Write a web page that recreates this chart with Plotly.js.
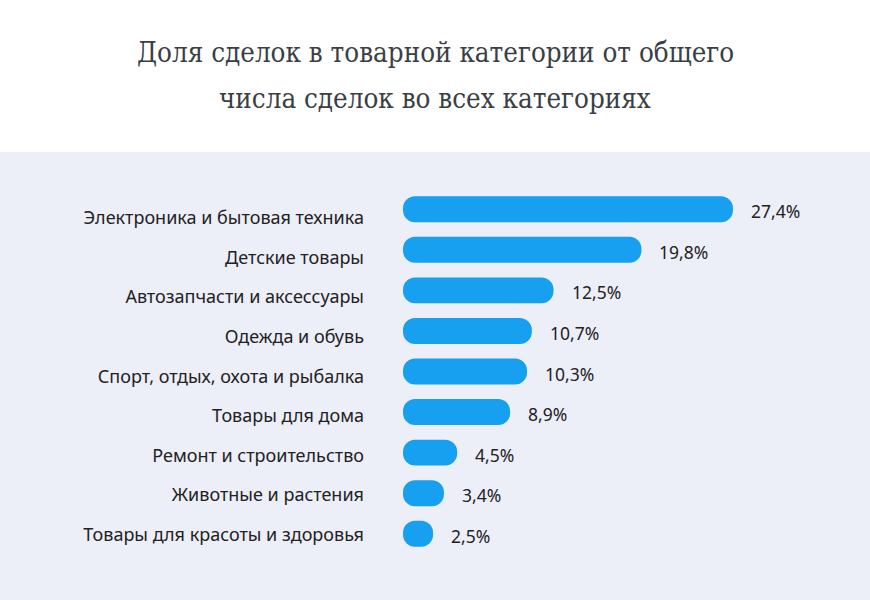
<!DOCTYPE html>
<html>
<head>
<meta charset="utf-8">
<script src="https://cdn.plot.ly/plotly-3.0.1.min.js"></script>
<style>html,body{margin:0;padding:0;background:#fff;}#chart{width:870px;height:600px;}</style>
</head>
<body>
<div id="chart"></div>
<script>
const categories = [
  "Электроника и бытовая техника",
  "Детские товары",
  "Автозапчасти и аксессуары",
  "Одежда и обувь",
  "Спорт, отдых, охота и рыбалка",
  "Товары для дома",
  "Ремонт и строительство",
  "Животные и растения",
  "Товары для красоты и здоровья"
];
const shares = [27.4, 19.8, 12.5, 10.7, 10.3, 8.9, 4.5, 3.4, 2.5];
const shareLabels = ["27,4%", "19,8%", "12,5%", "10,7%", "10,3%", "8,9%", "4,5%", "3,4%", "2,5%"];
const titleLines = ["Доля сделок в товарной категории от общего", "числа сделок во всех категориях"];

const FIG_H = 600, M_TOP = 189, M_BOT = 46;
const plotH = FIG_H - M_TOP - M_BOT;
const py = px => (FIG_H - M_BOT - px) / plotH;
const M_L = 403, M_R = 10, FIG_W = 870;
const plotW = FIG_W - M_L - M_R;

const BAR_COLOR = '#179FF0';

// an explicit base makes Plotly round both ends -> pill-shaped bars
const bars = {
  type: 'bar', orientation: 'h', y: categories, x: shares, base: shares.map(() => 0),
  marker: {color: BAR_COLOR, cornerradius: '50%', line: {width: 0}},
  hoverinfo: 'skip'
};
// carrier for category labels on the overlaying axis
const labelCarrier = {
  type: 'scatter', mode: 'none', x: shares, y: categories, yaxis: 'y2', hoverinfo: 'skip'
};

const annotations = shares.map((v, i) => ({
  x: v, y: categories[i], xref: 'x', yref: 'y',
  text: shareLabels[i], showarrow: false, xanchor: 'left', xshift: 16, yshift: -2,
  font: {family: 'Noto Sans, Open Sans, sans-serif', size: 17.5, color: '#222'}
}));
titleLines.forEach((t, i) => annotations.push({
  x: (435 - M_L) / plotW, xref: 'paper', y: py(i === 0 ? 52 : 98), yref: 'paper',
  xanchor: 'center', yanchor: 'middle', showarrow: false, text: t,
  font: {family: 'DejaVu Serif Condensed, DejaVu Serif, serif', size: 27.5, color: '#3a3f45'}
}));

const layout = {
  width: FIG_W, height: FIG_H,
  margin: {l: M_L, r: M_R, t: M_TOP, b: M_BOT, pad: 0},
  paper_bgcolor: '#ECEEF8',
  plot_bgcolor: 'rgba(0,0,0,0)',
  showlegend: false,
  barmode: 'overlay',
  bargap: 0.36,
  xaxis: {range: [0, 37.95], visible: false, fixedrange: true},
  yaxis: {
    type: 'category', categoryorder: 'array', categoryarray: categories,
    autorange: 'reversed', showgrid: false, zeroline: false, showline: false,
    ticks: '', showticklabels: false
  },
  yaxis2: {
    overlaying: 'y', side: 'left',
    type: 'category', categoryorder: 'array', categoryarray: categories,
    range: [8.493, -0.732], showgrid: false, zeroline: false, showline: false,
    ticks: '', ticklabelstandoff: 38,
    tickfont: {family: 'Noto Sans, Open Sans, sans-serif', size: 18, color: '#222'}
  },
  shapes: [{
    type: 'rect', xref: 'paper', yref: 'paper', layer: 'below',
    x0: -2, x1: 2, y0: py(152), y1: 3,
    fillcolor: '#ffffff', line: {width: 0}
  }],
  annotations: annotations
};

Plotly.newPlot('chart', [bars, labelCarrier], layout, {displayModeBar: false, staticPlot: true});
</script>
</body>
</html>
